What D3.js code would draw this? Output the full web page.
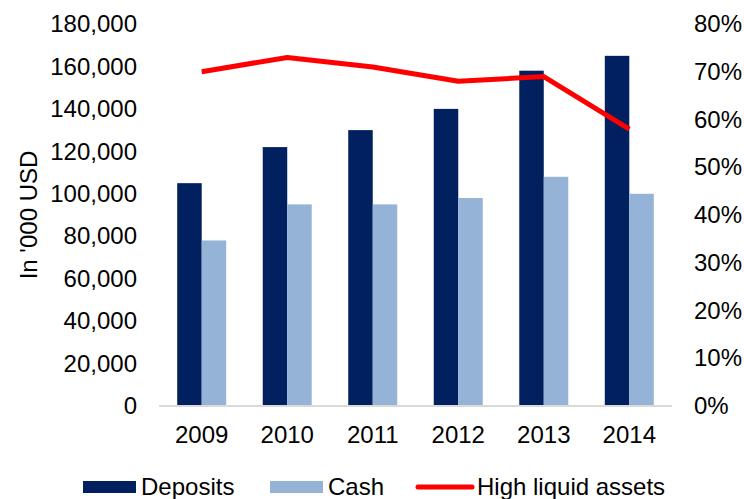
<!DOCTYPE html>
<html>
<head>
<script src="https://d3js.org/d3.v7.min.js"></script>
<style>
  body { margin: 0; background: #fff; }
  text { font-family: "Liberation Sans", Arial, sans-serif; fill: #000; }
</style>
</head>
<body>
<div id="chart"></div>
<script>
var years = ['2009', '2010', '2011', '2012', '2013', '2014'];
var deposits = [105000, 122000, 130000, 140000, 158000, 165000];
var cash = [78000, 95000, 95000, 98000, 108000, 100000];
var liquid = [0.70, 0.73, 0.71, 0.68, 0.69, 0.58];
var leftTicks = [0, 20000, 40000, 60000, 80000, 100000, 120000, 140000, 160000, 180000];
var rightTicks = [0, 0.1, 0.2, 0.3, 0.4, 0.5, 0.6, 0.7, 0.8];

(function(d3) {
  'use strict';

  var width = 744, height = 499;
  var plotLeft = 159, plotRight = 672, plotTop = 24, plotBottom = 406;
  var fontSize = 24;
  var font = '"Liberation Sans", Arial, sans-serif';

  var svg = d3.select('#chart').append('svg')
    .attr('width', width)
    .attr('height', height);

  var x = d3.scaleBand()
    .domain(years)
    .range([plotLeft, plotRight])
    .paddingInner(0.427)
    .paddingOuter(0.213);

  var sub = d3.scaleBand()
    .domain(['deposits', 'cash'])
    .range([0, x.bandwidth()]);

  var y = d3.scaleLinear().domain([0, 180000]).range([plotBottom, plotTop]);
  var y2 = d3.scaleLinear().domain([0, 0.8]).range([plotBottom, plotTop]);

  // bars
  var groups = svg.selectAll('.year')
    .data(years)
    .enter().append('g')
    .attr('class', 'year')
    .attr('transform', function(d) { return 'translate(' + x(d) + ',0)'; });

  groups.append('rect')
    .attr('x', sub('deposits'))
    .attr('width', sub.bandwidth())
    .attr('y', function(d, i) { return y(deposits[i]); })
    .attr('height', function(d, i) { return plotBottom - y(deposits[i]); })
    .attr('fill', '#002060');

  groups.append('rect')
    .attr('x', sub('cash'))
    .attr('width', sub.bandwidth())
    .attr('y', function(d, i) { return y(cash[i]); })
    .attr('height', function(d, i) { return plotBottom - y(cash[i]); })
    .attr('fill', '#95b3d7');

  // baseline
  svg.append('line')
    .attr('x1', plotLeft).attr('x2', plotRight)
    .attr('y1', plotBottom).attr('y2', plotBottom)
    .attr('stroke', '#d9d9d9')
    .attr('stroke-width', 2);

  // line series
  var line = d3.line()
    .x(function(d, i) { return x(years[i]) + x.bandwidth() / 2; })
    .y(function(d) { return y2(d); });

  svg.append('path')
    .datum(liquid)
    .attr('d', line)
    .attr('fill', 'none')
    .attr('stroke', '#ff0000')
    .attr('stroke-width', 5)
    .attr('stroke-linejoin', 'round');

  // left axis
  var gy = svg.append('g')
    .attr('transform', 'translate(137,0)')
    .call(d3.axisLeft(y)
      .tickValues(leftTicks)
      .tickSize(0)
      .tickPadding(0)
      .tickFormat(d3.format(',.0f')));
  gy.select('.domain').remove();
  gy.selectAll('text')
    .style('font-size', fontSize + 'px')
    .style('font-family', font)
    .attr('fill', '#000');

  // right axis
  var gy2 = svg.append('g')
    .attr('transform', 'translate(694,0)')
    .call(d3.axisRight(y2)
      .tickValues(rightTicks)
      .tickSize(0)
      .tickPadding(0)
      .tickFormat(d3.format('.0%')));
  gy2.select('.domain').remove();
  gy2.selectAll('text')
    .style('font-size', fontSize + 'px')
    .style('font-family', font)
    .attr('fill', '#000');

  // x axis
  var gx = svg.append('g')
    .attr('transform', 'translate(0,' + (plotBottom + 29) + ')')
    .call(d3.axisBottom(x).tickSize(0).tickPadding(0));
  gx.select('.domain').remove();
  gx.selectAll('text')
    .attr('dy', '0.35em')
    .style('font-size', fontSize + 'px')
    .style('font-family', font)
    .attr('fill', '#000');

  // axis title
  svg.append('text')
    .attr('transform', 'translate(29,215) rotate(-90)')
    .attr('text-anchor', 'middle')
    .attr('dy', '0.35em')
    .style('font-size', fontSize + 'px')
    .text("In '000 USD");

  // legend
  var legendY = 487;
  var legendItems = [
    { label: 'Deposits', type: 'rect', color: '#002060', x: 83 },
    { label: 'Cash', type: 'rect', color: '#95b3d7', x: 270 },
    { label: 'High liquid assets', type: 'line', color: '#ff0000', x: 417 }
  ];

  var legend = svg.selectAll('.legend')
    .data(legendItems)
    .enter().append('g')
    .attr('class', 'legend')
    .attr('transform', function(d) { return 'translate(' + d.x + ',' + legendY + ')'; });

  legend.filter(function(d) { return d.type === 'rect'; })
    .append('rect')
    .attr('x', 0).attr('y', -6)
    .attr('width', 53).attr('height', 12)
    .attr('fill', function(d) { return d.color; });

  legend.filter(function(d) { return d.type === 'line'; })
    .append('line')
    .attr('x1', 1).attr('x2', 55)
    .attr('y1', 0).attr('y2', 0)
    .attr('stroke', function(d) { return d.color; })
    .attr('stroke-width', 5)
    .attr('stroke-linecap', 'round');

  legend.append('text')
    .attr('x', function(d) { return d.type === 'line' ? 60 : 58; })
    .attr('dy', '0.35em')
    .style('font-size', fontSize + 'px')
    .text(function(d) { return d.label; });
})(window.d3);
</script>
</body>
</html>
